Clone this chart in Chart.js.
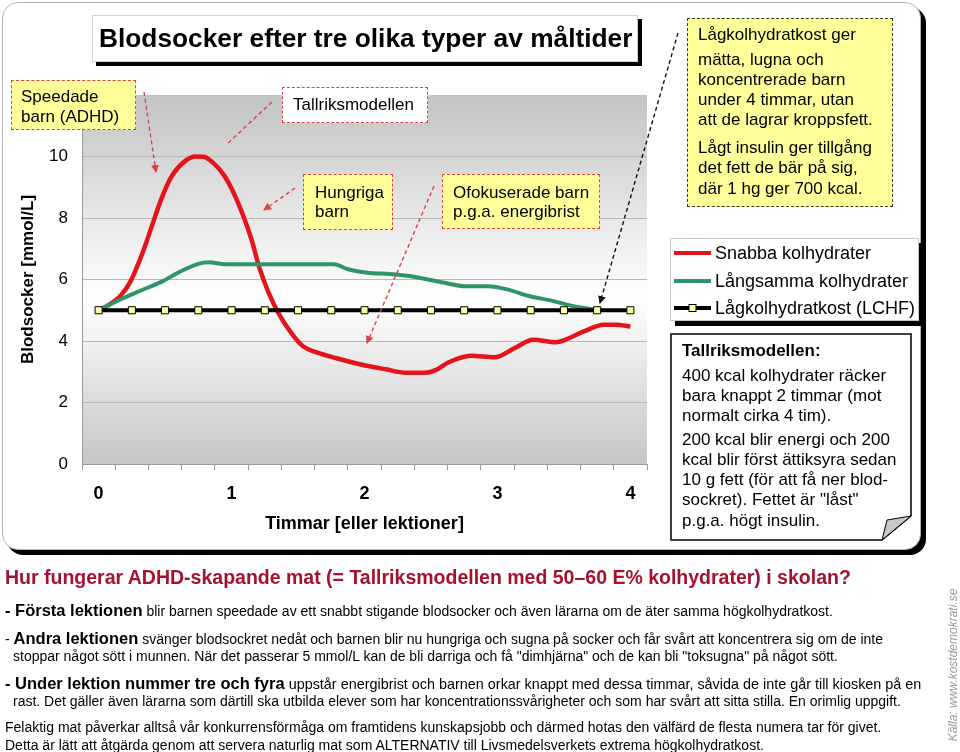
<!DOCTYPE html>
<html><head><meta charset="utf-8">
<script src="https://cdn.jsdelivr.net/npm/chart.js@4.4.1/dist/chart.umd.min.js"></script>
<style>
html,body{margin:0;padding:0;background:#fff;}
body{width:960px;height:752px;position:relative;overflow:hidden;font-family:"Liberation Sans",Arial,Helvetica,sans-serif;color:#000;}
.abs{position:absolute;box-sizing:border-box;}
.ln{position:absolute;white-space:nowrap;line-height:20px;z-index:4;}
.yel{background:#ffff99;border:1.5px dashed #d8434a;z-index:2;}
.f17{font-size:17px;}
.bt{font-size:14px;}
.bt b{font-size:16.5px;}
</style></head><body>
<div class="abs" style="left:2px;top:2px;width:919px;height:548px;border:1px solid #b4b4b4;border-radius:16px;box-shadow:5px 5px 0 #000;background:#fff;z-index:0"></div>
<canvas id="c" width="660" height="539" style="position:absolute;left:0;top:0;z-index:1"></canvas>

<div class="abs" style="left:92px;top:15px;width:546px;height:47px;border:1px solid #d4d4d4;box-shadow:4px 4px 0 #000;background:#fff;z-index:2"></div>
<div class="ln" style="left:99px;top:15px;line-height:47px;font-size:26.3px;font-weight:bold">Blodsocker efter tre olika typer av måltider</div>

<!-- annotation boxes -->
<div class="abs yel" style="left:11px;top:80px;width:125px;height:50px"></div>
<div class="ln f17" style="left:21px;top:87px">Speedade</div>
<div class="ln f17" style="left:21px;top:107px">barn (ADHD)</div>

<div class="abs yel" style="left:282px;top:87px;width:146px;height:36px;background:#fff"></div>
<div class="ln f17" style="left:293px;top:95px">Tallriksmodellen</div>

<div class="abs yel" style="left:303px;top:174px;width:90px;height:56px"></div>
<div class="ln f17" style="left:315px;top:183px">Hungriga</div>
<div class="ln f17" style="left:315px;top:202px">barn</div>

<div class="abs yel" style="left:442px;top:174px;width:158px;height:55px"></div>
<div class="ln f17" style="left:453px;top:183px">Ofokuserade barn</div>
<div class="ln f17" style="left:453px;top:202px">p.g.a. energibrist</div>

<div class="abs yel" style="left:687px;top:18px;width:206px;height:189px;border-color:#333"></div>
<div class="ln f17" style="left:698px;top:25px">Lågkolhydratkost ger</div>
<div class="ln f17" style="left:698px;top:50px">mätta, lugna och</div>
<div class="ln f17" style="left:698px;top:70px">koncentrerade barn</div>
<div class="ln f17" style="left:698px;top:90px">under 4 timmar, utan</div>
<div class="ln f17" style="left:698px;top:110px">att de lagrar kroppsfett.</div>
<div class="ln f17" style="left:698px;top:138px">Lågt insulin ger tillgång</div>
<div class="ln f17" style="left:698px;top:158px">det fett de bär på sig,</div>
<div class="ln f17" style="left:698px;top:179px">där 1 hg ger 700 kcal.</div>

<!-- legend -->
<div class="abs" style="left:670px;top:238px;width:249px;height:83px;border:1px solid #c8c8c8;box-shadow:5px 5px 0 #000;background:#fff;z-index:2"></div>
<div class="ln" style="left:715px;top:243px;font-size:18px">Snabba kolhydrater</div>
<div class="ln" style="left:715px;top:271px;font-size:18px">Långsamma kolhydrater</div>
<div class="ln" style="left:715px;top:298px;font-size:18px">Lågkolhydratkost (LCHF)</div>

<!-- info box text -->
<div class="ln f17" style="left:682px;top:341px;font-weight:bold">Tallriksmodellen:</div>
<div class="ln f17" style="left:682px;top:366px">400 kcal kolhydrater räcker</div>
<div class="ln f17" style="left:682px;top:386px">bara knappt 2 timmar (mot</div>
<div class="ln f17" style="left:682px;top:406px">normalt cirka 4 tim).</div>
<div class="ln f17" style="left:682px;top:430px">200 kcal blir energi och 200</div>
<div class="ln f17" style="left:682px;top:450px">kcal blir först ättiksyra sedan</div>
<div class="ln f17" style="left:682px;top:470px">10 g fett (för att få ner blod-</div>
<div class="ln f17" style="left:682px;top:490px">sockret). Fettet är "låst"</div>
<div class="ln f17" style="left:682px;top:511px">p.g.a. högt insulin.</div>

<!-- bottom text -->
<div class="ln" style="left:5px;top:567px;font-size:19.5px;font-weight:bold;color:#a51230">Hur fungerar ADHD-skapande mat (= Tallriksmodellen med 50–60 E% kolhydrater) i skolan?</div>
<div class="ln bt" style="left:5px;top:600px"><b>- Första lektionen</b> blir barnen speedade av ett snabbt stigande blodsocker och även lärarna om de äter samma högkolhydratkost.</div>
<div class="ln bt" style="left:5px;top:628px">- <b>Andra lektionen</b> svänger blodsockret nedåt och barnen blir nu hungriga och sugna på socker och får svårt att koncentrera sig om de inte</div>
<div class="ln bt" style="left:13px;top:646px">stoppar något sött i munnen. När det passerar 5 mmol/L kan de bli darriga och få "dimhjärna" och de kan bli "toksugna" på något sött.</div>
<div class="ln bt" style="left:5px;top:673px;font-size:14.4px"><b>- Under lektion nummer tre och fyra</b> uppstår energibrist och barnen orkar knappt med dessa timmar, såvida de inte går till kiosken på en</div>
<div class="ln bt" style="left:13px;top:691px">rast. Det gäller även lärarna som därtill ska utbilda elever som har koncentrationssvårigheter och som har svårt att sitta stilla. En orimlig uppgift.</div>
<div class="ln bt" style="left:5px;top:717px">Felaktig mat påverkar alltså vår konkurrensförmåga om framtidens kunskapsjobb och därmed hotas den välfärd de flesta numera tar för givet.</div>
<div class="ln bt" style="left:5px;top:735px">Detta är lätt att åtgärda genom att servera naturlig mat som ALTERNATIV till Livsmedelsverkets extrema högkolhydratkost.</div>
<div class="ln" style="left:953px;top:665px;font-size:12px;font-style:italic;color:#999;transform:translate(-50%,-50%) rotate(-90deg);">Källa: www.kostdemokrati.se</div>

<svg width="960" height="752" style="position:absolute;left:0;top:0;z-index:3;pointer-events:none">
<defs>
<marker id="ar" markerWidth="8" markerHeight="8" refX="7" refY="4" orient="auto" markerUnits="userSpaceOnUse"><path d="M0,0 L8,4 L0,8 z" fill="#d8434a"/></marker>
<marker id="ab" markerWidth="8" markerHeight="8" refX="7" refY="4" orient="auto" markerUnits="userSpaceOnUse"><path d="M0,0 L8,4 L0,8 z" fill="#111"/></marker>
</defs>
<g stroke="#d8434a" stroke-width="1.4" stroke-dasharray="4 3" fill="none">
<line x1="144" y1="92" x2="156" y2="172" marker-end="url(#ar)"/>
<line x1="272" y1="102" x2="226" y2="145"/>
<line x1="295" y1="188" x2="264" y2="210" marker-end="url(#ar)"/>
<line x1="434" y1="186" x2="367" y2="343" marker-end="url(#ar)"/>
</g>
<line x1="678" y1="33" x2="600" y2="303" stroke="#111" stroke-width="1.4" stroke-dasharray="4 3" marker-end="url(#ab)"/>
<polygon points="671,334 911,334 911,516 882,540 671,540" fill="#fff" stroke="#000" stroke-width="1.5"/>
<polygon points="911,516 882,540 887,520" fill="#c8c8c8" stroke="#000" stroke-width="1"/>
<line x1="674" y1="253" x2="711" y2="253" stroke="#e3141b" stroke-width="4"/>
<line x1="674" y1="281" x2="711" y2="281" stroke="#2f9467" stroke-width="4"/>
<line x1="674" y1="308" x2="711" y2="308" stroke="#000" stroke-width="4"/>
<rect x="689" y="304.5" width="7" height="7" fill="#ffffa8" stroke="#000" stroke-width="1"/>
</svg>

<script>
// Snabba kolhydrater (red)
const snabbaTimmar = [0,0.08,0.17,0.24,0.33,0.40,0.47,0.55,0.65,0.73,0.79,0.86,0.94,1.01,1.09,1.15,1.21,1.28,1.36,1.46,1.54,1.64,1.79,1.99,2.16,2.31,2.46,2.54,2.63,2.80,2.98,3.13,3.27,3.44,3.51,3.65,3.80,3.89,4.0];
const snabbaVarden = [5.0,5.18,5.5,5.94,6.86,7.73,8.6,9.36,9.85,10.0,9.99,9.8,9.41,8.87,8.05,7.3,6.37,5.56,4.85,4.2,3.82,3.63,3.44,3.22,3.08,2.97,2.97,3.06,3.30,3.52,3.47,3.77,4.04,3.96,4.04,4.31,4.53,4.53,4.47];
// Långsamma kolhydrater (green)
const langsammaTimmar = [0,0.16,0.30,0.48,0.60,0.75,0.83,0.95,1.12,1.77,1.87,2.04,2.19,2.36,2.58,2.76,2.93,3.08,3.23,3.43,3.58,3.70,3.75];
const langsammaVarden = [5.0,5.34,5.61,5.94,6.23,6.51,6.56,6.5,6.5,6.5,6.34,6.21,6.18,6.1,5.91,5.78,5.78,5.67,5.47,5.29,5.12,5.04,5.0];
// Lågkolhydratkost (LCHF) (black)
const lchfTimmar = [0,0.25,0.5,0.75,1,1.25,1.5,1.75,2,2.25,2.5,2.75,3,3.25,3.5,3.75,4];
const lchfVarden = [5,5,5,5,5,5,5,5,5,5,5,5,5,5,5,5,5];
const seriesNames = ['Snabba kolhydrater','Långsamma kolhydrater','Lågkolhydratkost (LCHF)'];
const xTickLabels = ['0','1','2','3','4'];
const yTickValues = [0,2,4,6,8,10,12];
const xAxisTitle = 'Timmar [eller lektioner]';
const yAxisTitle = 'Blodsocker [mmol/L]';

const pts = (xs, ys) => xs.map((x, i) => ({x: x, y: ys[i]}));
const xTickValues = [];
for (let k = 0; k <= 34; k++) xTickValues.push(-0.125 + k * 0.125);

const bgPlugin = {
  id: 'bg',
  beforeDraw(chart) {
    const {ctx, chartArea: a} = chart;
    const g = ctx.createLinearGradient(0, a.top, 0, a.bottom);
    g.addColorStop(0, '#c3c3c3');
    g.addColorStop(0.55, '#ffffff');
    g.addColorStop(1, '#c6c6c6');
    ctx.save();
    ctx.fillStyle = g;
    ctx.fillRect(a.left, a.top, a.right - a.left, a.bottom - a.top);
    ctx.restore();
  }
};

new Chart(document.getElementById('c'), {
  type: 'line',
  data: {
    datasets: [
      {label: seriesNames[0], data: pts(snabbaTimmar, snabbaVarden), borderColor: '#e3141b', borderWidth: 4.5, pointRadius: 0, cubicInterpolationMode: 'monotone', order: 2},
      {label: seriesNames[1], data: pts(langsammaTimmar, langsammaVarden), borderColor: '#2f9467', borderWidth: 4, pointRadius: 0, cubicInterpolationMode: 'monotone', order: 1},
      {label: seriesNames[2], data: pts(lchfTimmar, lchfVarden), borderColor: '#000', borderWidth: 4, pointStyle: 'rect', pointRadius: 5, pointBackgroundColor: '#ffffa8', pointBorderColor: '#000', pointBorderWidth: 1, order: 0}
    ]
  },
  options: {
    responsive: false,
    animation: false,
    layout: {padding: {top: 95, right: 5, left: 0, bottom: 0}},
    plugins: {legend: {display: false}, tooltip: {enabled: false}},
    scales: {
      x: {
        type: 'linear', min: -0.125, max: 4.125,
        afterBuildTicks: (s) => { s.ticks = xTickValues.map(v => ({value: v})); },
        afterFit: (s) => { s.height = 75; },
        ticks: {
          autoSkip: false, maxRotation: 0, padding: 13, color: '#000',
          font: {family: 'Liberation Sans', size: 18, weight: 'bold'},
          callback: (v) => Number.isInteger(v) ? xTickLabels[v] : ''
        },
        grid: {drawOnChartArea: false, drawTicks: true, tickLength: 6,
          tickColor: (c) => (c.index % 2 === 0 ? '#9a9a9a' : 'rgba(0,0,0,0)')},
        border: {display: true, color: '#9a9a9a', width: 1},
        title: {display: true, text: xAxisTitle, color: '#000', padding: {top: 4, bottom: 4},
          font: {family: 'Liberation Sans', size: 18, weight: 'bold'}}
      },
      y: {
        type: 'linear', min: 0, max: 12,
        afterBuildTicks: (s) => { s.ticks = yTickValues.map(v => ({value: v})); },
        afterFit: (s) => { s.width = 82; },
        ticks: {padding: 14, color: '#000', font: {family: 'Liberation Sans', size: 17},
          callback: (v) => v === 12 ? '' : String(v)},
        grid: {drawTicks: false, color: (c) => (c.tick && c.tick.value === 12 ? 'rgba(0,0,0,0)' : '#b8b8b8')},
        border: {display: true, color: '#9a9a9a', width: 1},
        title: {display: true, text: yAxisTitle, color: '#000', padding: {top: 18, bottom: 0},
          font: {family: 'Liberation Sans', size: 17, weight: 'bold'}}
      }
    }
  },
  plugins: [bgPlugin]
});
</script>
</body></html>
